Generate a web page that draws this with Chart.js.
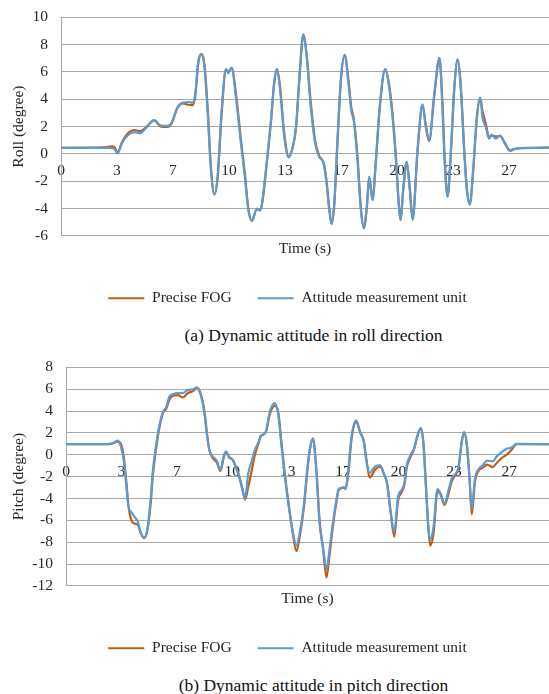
<!DOCTYPE html>
<html>
<head>
<meta charset="utf-8">
<script src="https://cdn.jsdelivr.net/npm/chart.js@4.4.1/dist/chart.umd.min.js"></script>
<style>
  body { margin: 0; background: #fff; width: 549px; height: 694px; position: relative; overflow: hidden;
         font-family: 'Liberation Serif', 'Times New Roman', serif; }
  .box { position: absolute; left: 0; width: 549px; height: 321px; }
  .caption { position: absolute; left: 0; width: 549px; padding-left: 78px; box-sizing: border-box;
             text-align: center; font-size: 17.5px; line-height: 20px; color: #111; }
</style>
</head>
<body>
<div class="box" style="top:-5px"><canvas id="rollChart"></canvas></div>
<div class="caption" style="top:325px">(a) Dynamic attitude in roll direction</div>
<div class="box" style="top:345px"><canvas id="pitchChart"></canvas></div>
<div class="caption" style="top:675px">(b) Dynamic attitude in pitch direction</div>
<script>
// x axis: Excel-style category labels, one every 3.35 s
var tickSeconds = [0, 3.35, 6.7, 10.05, 13.4, 16.75, 20.1, 23.45, 26.8];
var tickLabels = ['0', '3', '7', '10', '13', '17', '20', '23', '27'];
var seriesNames = ['Precise FOG', 'Attitude measurement unit'];

/* roll (degree) */
var rollTime = [0, 2.7, 3.0, 3.2, 3.39, 3.63, 3.99, 4.39, 4.74, 5.08,
  5.58, 5.98, 6.38, 6.62, 6.98, 7.28, 7.62, 7.87, 8.03, 8.21,
  8.41, 8.57, 8.77, 8.97, 9.17, 9.37, 9.61, 9.87, 10.01, 10.21,
  10.47, 10.77, 11.0, 11.2, 11.42, 11.72, 11.92, 12.06, 12.26, 12.56,
  12.76, 12.92, 13.1, 13.36, 13.62, 13.86, 14.06, 14.26, 14.5, 14.69,
  14.95, 15.21, 15.45, 15.71, 15.89, 16.05, 16.19, 16.35, 16.55, 16.75,
  16.97, 17.21, 17.37, 17.52, 17.74, 17.94, 18.12, 18.3, 18.44, 18.64,
  18.84, 19.08, 19.4, 19.64, 19.84, 20.04, 20.2, 20.32, 20.47, 20.69,
  20.87, 21.04, 21.33, 21.63, 21.83, 22.03, 22.33, 22.65, 22.83, 22.98,
  23.13, 23.33, 23.53, 23.73, 23.92, 24.12, 24.28, 24.46, 24.66, 24.88,
  25.08, 25.22, 25.42, 25.62, 25.76, 26.02, 26.27, 26.56, 26.87, 27.21,
  29.2];
var rollFog = [0.45, 0.48, 0.55, 0.5, 0.1, 0.8, 1.5, 1.75, 1.67, 1.95,
  2.45, 2.0, 1.97, 2.25, 3.4, 3.7, 3.6, 3.57, 4.2, 6.6,
  7.3, 6.7, 3.5, -0.9, -2.95, -1.8, 2.9, 6.15, 6.0, 6.3,
  4.4, 1.0, -1.4, -3.9, -4.9, -4.05, -4.1, -3.45, -1.3, 2.3,
  5.2, 6.2, 5.0, 1.5, -0.2, 0.45, 1.9, 5.4, 8.75, 7.4,
  3.7, 0.95, -0.15, -0.65, -2.0, -3.95, -5.1, -3.75, 1.0, 5.4,
  7.25, 5.3, 3.4, 2.55, -0.2, -3.9, -5.45, -3.95, -1.7, -3.35,
  -0.6, 3.45, 6.2, 5.0, 2.9, -0.2, -3.4, -4.85, -2.75, -0.6,
  -2.5, -4.8, 0.1, 3.6, 2.1, 0.95, 4.2, 7.0, 3.5, -0.9,
  -3.1, 0.1, 4.7, 6.9, 5.0, 0.5, -2.45, -3.7, -1.3, 2.55,
  4.1, 3.15, 2.19, 1.2, 1.35, 1.28, 1.3, 0.8, 0.25, 0.38,
  0.46];
var rollAmu = [0.45, 0.45, 0.45, 0.35, 0.03, 0.75, 1.35, 1.59, 1.52, 1.9,
  2.48, 2.07, 2.05, 2.3, 3.44, 3.75, 3.8, 3.75, 4.35, 6.75,
  7.28, 6.5, 3.15, -1.17, -2.98, -1.65, 3.15, 6.22, 5.9, 6.32,
  4.1, 0.75, -1.66, -4.06, -4.9, -4.0, -4.15, -3.34, -1.17, 2.43,
  5.31, 6.2, 4.83, 1.23, -0.26, 0.5, 1.95, 5.55, 8.72, 7.23,
  3.39, 0.75, -0.21, -0.69, -2.13, -4.06, -5.14, -3.6, 1.23, 5.55,
  7.23, 5.07, 3.15, 2.43, -0.45, -4.06, -5.43, -3.8, -1.66, -3.38,
  -0.45, 3.63, 6.2, 4.83, 2.67, -0.45, -3.6, -4.83, -2.62, -0.58,
  -2.62, -4.83, 0.27, 3.63, 1.95, 0.94, 4.35, 7.04, 3.15, -1.17,
  -3.14, 0.27, 4.83, 6.92, 4.83, 0.27, -2.62, -3.7, -1.17, 2.67,
  4.11, 2.67, 1.95, 1.11, 1.42, 1.11, 1.35, 0.75, 0.22, 0.39,
  0.46];

/* pitch (degree) */
var pitchTime = [0, 2.14, 2.74, 3.14, 3.34, 3.5, 3.64, 3.78, 3.95, 4.14,
  4.35, 4.5, 4.71, 4.91, 5.11, 5.25, 5.45, 5.65, 5.86, 6.05,
  6.25, 6.46, 6.76, 7.06, 7.36, 7.66, 7.92, 8.16, 8.36, 8.52,
  8.66, 8.87, 9.13, 9.33, 9.53, 9.67, 9.87, 10.07, 10.27, 10.47,
  10.67, 10.83, 11.01, 11.22, 11.42, 11.61, 11.78, 12.08, 12.32, 12.62,
  12.84, 13.04, 13.24, 13.45, 13.69, 13.93, 14.14, 14.39, 14.59, 14.75,
  14.93, 15.13, 15.33, 15.53, 15.75, 15.93, 16.13, 16.34, 16.49, 16.8,
  16.9, 17.06, 17.26, 17.54, 17.8, 18.0, 18.16, 18.36, 18.7, 19.0,
  19.2, 19.41, 19.61, 19.85, 20.07, 20.3, 20.45, 20.61, 20.8, 21.05,
  21.25, 21.46, 21.61, 21.78, 21.92, 22.02, 22.22, 22.46, 22.66, 22.88,
  23.12, 23.33, 23.52, 23.72, 23.92, 24.07, 24.23, 24.39, 24.53, 24.73,
  24.93, 25.19, 25.47, 25.8, 26.04, 26.34, 26.64, 26.94, 27.24, 29.2];
var pitchFog = [0.97, 0.96, 1.0, 1.2, 0.9, -0.3, -2.4, -4.7, -5.99, -6.29,
  -6.44, -7.1, -7.6, -7.0, -4.6, -1.9, 0.6, 2.5, 3.8, 4.19,
  5.03, 5.39, 5.45, 5.24, 5.63, 5.81, 6.11, 5.5, 4.1, 2.0,
  0.5, -0.3, -0.75, -1.5, -0.3, 0.25, -0.2, -0.45, -1.1, -2.0,
  -3.2, -4.1, -2.99, -1.5, 0.0, 0.9, 1.7, 2.05, 3.7, 4.5,
  3.8, 0.9, -1.9, -4.4, -7.0, -8.83, -7.4, -4.7, -1.5, 0.5,
  1.5, -1.2, -6.0, -8.5, -11.23, -9.2, -6.6, -4.4, -3.2, -3.0,
  -3.15, -1.8, 1.4, 3.0, 2.0, 1.3, -0.4, -2.1, -1.35, -1.1,
  -1.7, -2.6, -5.0, -7.49, -4.2, -3.4, -2.8, -1.1, -0.3, 0.55,
  1.7, 2.4, 1.1, -3.3, -7.0, -8.32, -7.2, -3.3, -3.7, -4.6,
  -3.6, -2.4, -1.9, -1.3, 1.1, 2.0, 1.0, -2.0, -5.45, -2.4,
  -1.5, -1.2, -0.9, -1.14, -0.75, -0.3, 0.0, 0.45, 0.97, 0.96];
var pitchAmu = [0.97, 0.96, 1.02, 1.29, 0.6, -0.6, -2.69, -4.79, -5.24, -5.69,
  -6.14, -7.04, -7.63, -6.89, -4.19, -1.5, 0.9, 2.69, 3.89, 4.34,
  5.33, 5.54, 5.63, 5.63, 5.93, 5.99, 6.17, 5.39, 3.89, 1.8,
  0.45, -0.15, -0.6, -1.44, -0.15, 0.3, -0.3, -0.45, -1.2, -1.95,
  -3.14, -4.04, -1.8, -0.6, 0.45, 1.05, 1.74, 2.1, 3.95, 4.73,
  3.59, 0.6, -2.1, -4.49, -6.89, -8.32, -7.04, -4.49, -1.2, 0.6,
  1.44, -1.5, -6.29, -8.38, -10.48, -8.68, -6.29, -4.19, -3.14, -2.99,
  -3.14, -1.5, 1.65, 3.14, 1.95, 1.2, -0.6, -1.65, -1.05, -0.96,
  -1.65, -2.69, -5.09, -7.04, -3.89, -3.2, -2.6, -0.9, -0.1, 0.6,
  1.8, 2.46, 0.9, -3.59, -6.89, -7.78, -6.59, -3.14, -3.59, -4.49,
  -3.29, -2.1, -1.8, -1.2, 1.2, 2.1, 0.9, -2.1, -4.94, -2.1,
  -1.35, -0.96, -0.54, -0.6, -0.15, 0.24, 0.54, 0.66, 0.99, 0.96];

var fogColor = '#C55A11';
var amuColor = '#5B9BD5';
var gridGrey = '#a8a8a8';
var textColor = '#262626';
var serif = "'Liberation Serif', 'Times New Roman', serif";
var labelFont = { family: serif, size: 15.5, weight: 'normal' };
Chart.defaults.font.family = serif;
Chart.defaults.font.size = 15.5;

function toPoints(times, values) {
  return times.map(function (t, i) { return { x: t, y: values[i] }; });
}

function makeChart(id, yTitle, yMin, yMax, times, fog, amu, axisWidth) {
  var ctx = document.getElementById(id).getContext('2d');
  return new Chart(ctx, {
    type: 'line',
    data: {
      datasets: [{
        label: seriesNames[0],
        data: toPoints(times, fog),
        borderColor: fogColor,
        backgroundColor: fogColor,
        order: 1
      }, {
        label: seriesNames[1],
        data: toPoints(times, amu),
        borderColor: amuColor,
        backgroundColor: amuColor,
        order: 0
      }]
    },
    options: {
      responsive: true,
      maintainAspectRatio: false,
      animation: false,
      layout: { padding: { left: 26, top: 10, right: 0, bottom: 0 } },
      elements: {
        point: { radius: 0 },
        line: { borderWidth: 2.2, cubicInterpolationMode: 'monotone' }
      },
      scales: {
        x: {
          type: 'linear',
          min: 0,
          max: 29.2,
          position: { y: 0 },
          grid: { display: false, drawTicks: false },
          border: { display: false },
          afterBuildTicks: function (scale) {
            scale.ticks = tickSeconds.map(function (v) { return { value: v }; });
          },
          ticks: {
            padding: 8,
            color: textColor,
            font: labelFont,
            autoSkip: false,
            maxRotation: 0,
            callback: function (value, index) { return tickLabels[index]; }
          }
        },
        y: {
          min: yMin,
          max: yMax,
          afterFit: function (scale) { scale.width = axisWidth; },
          grid: { color: gridGrey, drawTicks: false },
          border: { color: gridGrey },
          ticks: { stepSize: 2, autoSkip: false, padding: 13, color: textColor, font: labelFont },
          title: { display: true, text: yTitle, color: textColor, font: labelFont,
                   padding: { top: -16, bottom: 0 } }
        }
      },
      plugins: {
        title: {
          display: true,
          text: 'Time (s)',
          position: 'bottom',
          fullSize: false,
          weight: 500,
          color: textColor,
          font: labelFont,
          padding: { top: 4, bottom: 6 }
        },
        legend: {
          position: 'bottom',
          labels: {
            boxWidth: 36,
            boxHeight: 2,
            padding: 26,
            color: textColor,
            font: labelFont,
            sort: function (a, b) { return a.datasetIndex - b.datasetIndex; },
            generateLabels: function (chart) {
              return Chart.defaults.plugins.legend.labels.generateLabels(chart).map(function (item) {
                item.lineWidth = 0;
                item.fillStyle = item.strokeStyle;
                return item;
              });
            }
          }
        },
        tooltip: { enabled: false }
      }
    }
  });
}

makeChart('rollChart', 'Roll (degree)', -6, 10, rollTime, rollFog, rollAmu, 35);
makeChart('pitchChart', 'Pitch (degree)', -12, 8, pitchTime, pitchFog, pitchAmu, 40);
</script>
</body>
</html>
